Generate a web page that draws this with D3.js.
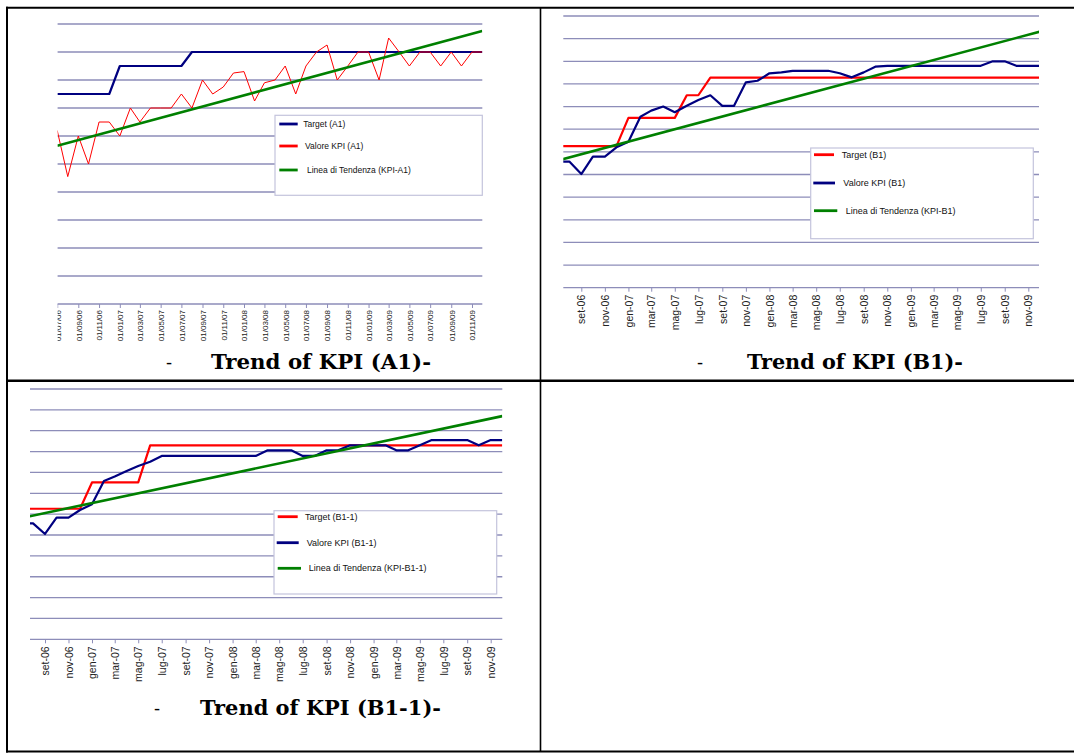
<!DOCTYPE html>
<html>
<head>
<meta charset="utf-8">
<script src="https://cdn.jsdelivr.net/npm/d3@7"></script>
<style>
  body { margin: 0; background: #fff; }
  svg { display: block; }
</style>
</head>
<body>
<svg id="page" width="1074" height="753"></svg>
<script>
// Monthly observations, Jul 2006 .. Dec 2009
const months = [
  "2006-07","2006-08","2006-09","2006-10","2006-11","2006-12",
  "2007-01","2007-02","2007-03","2007-04","2007-05","2007-06","2007-07","2007-08","2007-09","2007-10","2007-11","2007-12",
  "2008-01","2008-02","2008-03","2008-04","2008-05","2008-06","2008-07","2008-08","2008-09","2008-10","2008-11","2008-12",
  "2009-01","2009-02","2009-03","2009-04","2009-05","2009-06","2009-07","2009-08","2009-09","2009-10","2009-11","2009-12"
];

// Axis ticks every two months
const tickMonths = [
  "2006-09","2006-11","2007-01","2007-03","2007-05","2007-07","2007-09","2007-11",
  "2008-01","2008-03","2008-05","2008-07","2008-09","2008-11",
  "2009-01","2009-03","2009-05","2009-07","2009-09","2009-11"
];
const tickMonthsA1 = ["2006-07"].concat(tickMonths);
const tickLabelsA1 = [
  "01/07/06","01/09/06","01/11/06","01/01/07","01/03/07","01/05/07","01/07/07","01/09/07","01/11/07",
  "01/01/08","01/03/08","01/05/08","01/07/08","01/09/08","01/11/08",
  "01/01/09","01/03/09","01/05/09","01/07/09","01/09/09","01/11/09"
];
const tickLabelsB = [
  "set-06","nov-06","gen-07","mar-07","mag-07","lug-07","set-07","nov-07",
  "gen-08","mar-08","mag-08","lug-08","set-08","nov-08",
  "gen-09","mar-09","mag-09","lug-09","set-09","nov-09"
];

// KPI A1
const targetA1 = [
  75,75,75,75,75,75,                          // 2006-07 .. 2006-12
  85,85,85,85,85,85,85,                       // 2007-01 .. 2007-07
  90,90,90,90,90,                             // 2007-08 .. 2007-12
  90,90,90,90,90,90,90,90,90,90,90,90,        // 2008
  90,90,90,90,90,90,90,90,90,90,90,90         // 2009
];
const kpiA1 = [
  62,45.5,60,50,65,65,
  60,70,65,70,70,70,75,70,80,75,77.5,82.5,
  83,72.5,79,80,85,75,85,90,92.5,80,85,90,
  90,80,95,90,85,90,90,85,90,85,90,90
];
const trendA1 = [56.5, 97.5];

// KPI B1
const targetB1 = [
  6.25,6.25,6.25,6.25,6.25,6.25,                          // 2006-07 .. 2006-12
  7.5,7.5,7.5,7.5,7.5,8.5,8.5,9.28,9.28,9.28,9.28,9.28,   // 2007
  9.28,9.28,9.28,9.28,9.28,9.28,9.28,9.28,9.28,9.28,9.28,9.28, // 2008
  9.28,9.28,9.28,9.28,9.28,9.28,9.28,9.28,9.28,9.28,9.28,9.28  // 2009
];
const kpiB1 = [
  5.57,5.57,5.02,5.79,5.79,6.2,
  6.45,7.55,7.82,8.0,7.75,8.04,8.29,8.5,8.03,8.03,9.07,9.14,
  9.47,9.51,9.58,9.58,9.58,9.58,9.47,9.29,9.51,9.76,9.8,9.8,
  9.8,9.8,9.8,9.8,9.8,9.8,9.8,10.0,10.0,9.8,9.8,9.8
];
const trendB1 = [5.61, 11.31];

// KPI B1-1
const targetB11 = [
  6.26,6.26,6.26,6.26,6.26,6.26,                          // 2006-07 .. 2006-12
  7.52,7.52,7.52,7.52,7.52,9.3,9.3,9.3,9.3,9.3,9.3,9.3,   // 2007
  9.3,9.3,9.3,9.3,9.3,9.3,9.3,9.3,9.3,9.3,9.3,9.3,        // 2008
  9.3,9.3,9.3,9.3,9.3,9.3,9.3,9.3,9.3,9.3,9.3,9.3         // 2009
];
const kpiB11 = [
  5.56,5.56,5.05,5.83,5.83,6.2,
  6.47,7.59,7.8,8.07,8.31,8.51,8.79,8.79,8.79,8.79,8.79,8.79,
  8.79,8.79,8.79,9.06,9.06,9.06,8.79,8.79,9.06,9.06,9.3,9.3,
  9.3,9.3,9.06,9.06,9.3,9.55,9.55,9.55,9.55,9.3,9.55,9.55
];
const trendB11 = [5.81, 10.7];

const parse = d3.timeParse("%Y-%m");
const svg = d3.select("#page");
svg.append("rect").attr("width", 1074).attr("height", 753).attr("fill", "#fff");

const GRID = "#8d8db9";
const NAVY = "#000080";
const RED = "#ff0000";
const GREEN = "#008000";

function drawChart(cfg) {
  const g = svg.append("g");
  const x = d3.scaleTime()
    .domain([parse("2006-09"), parse("2009-11")])
    .range([cfg.xFirstTick, cfg.xLastTick]);
  const y = d3.scaleLinear().domain([0, cfg.yMax]).range([cfg.axisY, cfg.topY]);

  const clipId = "clip-" + cfg.id;
  svg.append("clipPath").attr("id", clipId)
    .append("rect")
    .attr("x", cfg.left).attr("y", cfg.topY - 10)
    .attr("width", cfg.right - cfg.left).attr("height", cfg.axisY - cfg.topY + 70);

  // horizontal gridlines
  g.append("g").selectAll("line")
    .data(d3.range(cfg.step, cfg.yMax + cfg.step / 2, cfg.step))
    .join("line")
    .attr("x1", cfg.left).attr("x2", cfg.right)
    .attr("y1", d => y(d)).attr("y2", d => y(d))
    .attr("stroke", GRID).attr("stroke-width", 1.3);

  // category axis
  const axis = d3.axisBottom(x)
    .tickValues(cfg.ticks.map(parse))
    .tickFormat((d, i) => cfg.labels[i])
    .tickSize(4).tickSizeOuter(0);
  const ag = g.append("g")
    .attr("clip-path", `url(#${clipId})`)
    .append("g")
    .attr("transform", `translate(0,${cfg.axisY})`)
    .call(axis);
  ag.select(".domain").remove();
  ag.selectAll(".tick line").attr("stroke", GRID).attr("stroke-width", 1);
  ag.selectAll(".tick text")
    .attr("transform", "rotate(-90)")
    .attr("x", -cfg.labelGap).attr("y", 0).attr("dy", "0.35em")
    .style("text-anchor", "end")
    .attr("fill", "#222")
    .style("font-family", "'Liberation Sans', Arial, sans-serif")
    .style("font-size", cfg.labelSize + "px");
  g.append("line")
    .attr("x1", cfg.left).attr("x2", cfg.right)
    .attr("y1", cfg.axisY).attr("y2", cfg.axisY)
    .attr("stroke", GRID).attr("stroke-width", 1.3);

  // series
  const lines = g.append("g").attr("clip-path", `url(#${clipId})`);
  const line = d3.line()
    .x((d, i) => x(parse(months[i])))
    .y(d => y(d));
  cfg.series.forEach(s => {
    lines.append("path")
      .datum(s.values)
      .attr("d", line)
      .attr("fill", "none")
      .attr("stroke", s.color)
      .attr("stroke-width", s.width)
      .attr("stroke-linejoin", "round");
  });
  // linear trend, first to last month
  lines.append("line")
    .attr("x1", x(parse(months[0]))).attr("y1", y(cfg.trend[0]))
    .attr("x2", x(parse(months[months.length - 1]))).attr("y2", y(cfg.trend[1]))
    .attr("stroke", GREEN).attr("stroke-width", 2.6);

  // legend
  const L = cfg.legend;
  const lg = g.append("g");
  lg.append("rect")
    .attr("x", L.x).attr("y", L.y).attr("width", L.w).attr("height", L.h)
    .attr("fill", "#fff").attr("stroke", "#c4c4dc").attr("stroke-width", 1.2);
  L.items.forEach(it => {
    lg.append("line")
      .attr("x1", it.x1).attr("x2", it.x2).attr("y1", it.y).attr("y2", it.y)
      .attr("stroke", it.color).attr("stroke-width", 2.8);
    lg.append("text")
      .attr("x", it.tx).attr("y", it.y).attr("dy", "0.35em")
      .attr("fill", "#111")
      .style("font-family", "'Liberation Sans', Arial, sans-serif")
      .style("font-size", L.size + "px")
      .text(it.label);
  });

  // caption beneath the chart
  const T = cfg.title;
  g.append("text")
    .attr("x", T.dashX).attr("y", T.y)
    .style("font-family", "'DejaVu Serif', serif").style("font-size", "18px")
    .attr("fill", "#000").text("-");
  g.append("text")
    .attr("x", T.x).attr("y", T.y)
    .attr("textLength", T.w).attr("lengthAdjust", "spacingAndGlyphs")
    .style("font-family", "'DejaVu Serif', serif").style("font-weight", "bold").style("font-size", "21px")
    .attr("fill", "#000").text(T.text);
}

drawChart({
  id: "a1", left: 57.6, right: 482.3, topY: 24, axisY: 304,
  xFirstTick: 78.3, xLastTick: 472, yMax: 100, step: 10,
  ticks: tickMonthsA1, labels: tickLabelsA1, labelSize: 8, labelGap: 6,
  series: [
    { values: targetA1, color: NAVY, width: 2.2 },
    { values: kpiA1, color: RED, width: 1 }
  ],
  trend: trendA1,
  legend: {
    x: 275, y: 115.3, w: 207.3, h: 80, size: 8.5,
    items: [
      { label: "Target (A1)", color: NAVY, x1: 279.3, x2: 297.7, y: 124, tx: 303.3 },
      { label: "Valore KPI  (A1)", color: RED, x1: 279.3, x2: 297.7, y: 146, tx: 305 },
      { label: "Linea di Tendenza (KPI-A1)", color: GREEN, x1: 279.3, x2: 297.7, y: 170, tx: 307 }
    ]
  },
  title: { dashX: 166, x: 211, w: 220, y: 369, text: "Trend of KPI (A1)-" }
});

drawChart({
  id: "b1", left: 563.3, right: 1039, topY: 16, axisY: 287.7,
  xFirstTick: 581.3, xLastTick: 1028.3, yMax: 12, step: 1,
  ticks: tickMonths, labels: tickLabelsB, labelSize: 10.5, labelGap: 7,
  series: [
    { values: targetB1, color: RED, width: 2.2 },
    { values: kpiB1, color: NAVY, width: 2.2 }
  ],
  trend: trendB1,
  legend: {
    x: 810.7, y: 148, w: 222.6, h: 90.7, size: 9,
    items: [
      { label: "Target (B1)", color: RED, x1: 814, x2: 834, y: 154.7, tx: 841.7 },
      { label: "Valore KPI  (B1)", color: NAVY, x1: 813.3, x2: 835, y: 183, tx: 843.3 },
      { label: "Linea di Tendenza (KPI-B1)", color: GREEN, x1: 814, x2: 837.3, y: 210.7, tx: 845.7 }
    ]
  },
  title: { dashX: 697, x: 747, w: 216, y: 369, text: "Trend of KPI (B1)-" }
});

drawChart({
  id: "b11", left: 30, right: 502.3, topY: 389, axisY: 639.3,
  xFirstTick: 45, xLastTick: 490.7, yMax: 12, step: 1,
  ticks: tickMonths, labels: tickLabelsB, labelSize: 10.5, labelGap: 7,
  series: [
    { values: targetB11, color: RED, width: 2.2 },
    { values: kpiB11, color: NAVY, width: 2.2 }
  ],
  trend: trendB11,
  legend: {
    x: 274, y: 510.7, w: 222.7, h: 83.3, size: 9,
    items: [
      { label: "Target (B1-1)", color: RED, x1: 277.7, x2: 297.7, y: 516.7, tx: 305 },
      { label: "Valore KPI  (B1-1)", color: NAVY, x1: 276.7, x2: 298.7, y: 542.7, tx: 306.7 },
      { label: "Linea di Tendenza (KPI-B1-1)", color: GREEN, x1: 277.7, x2: 301, y: 568.3, tx: 308.7 }
    ]
  },
  title: { dashX: 154, x: 200, w: 241, y: 715, text: "Trend of KPI (B1-1)-" }
});

// table grid around the three charts
const border = svg.append("g").attr("stroke", "#000");
border.append("line").attr("x1", 7).attr("x2", 7).attr("y1", 6.7).attr("y2", 752.5).attr("stroke-width", 2);
border.append("line").attr("x1", 6).attr("x2", 1074).attr("y1", 7.7).attr("y2", 7.7).attr("stroke-width", 2);
border.append("line").attr("x1", 6).attr("x2", 1074).attr("y1", 751.5).attr("y2", 751.5).attr("stroke-width", 2);
border.append("line").attr("x1", 6).attr("x2", 1074).attr("y1", 380.7).attr("y2", 380.7).attr("stroke-width", 2.5);
border.append("line").attr("x1", 540.5).attr("x2", 540.5).attr("y1", 7).attr("y2", 752).attr("stroke-width", 1.6);
</script>
</body>
</html>
